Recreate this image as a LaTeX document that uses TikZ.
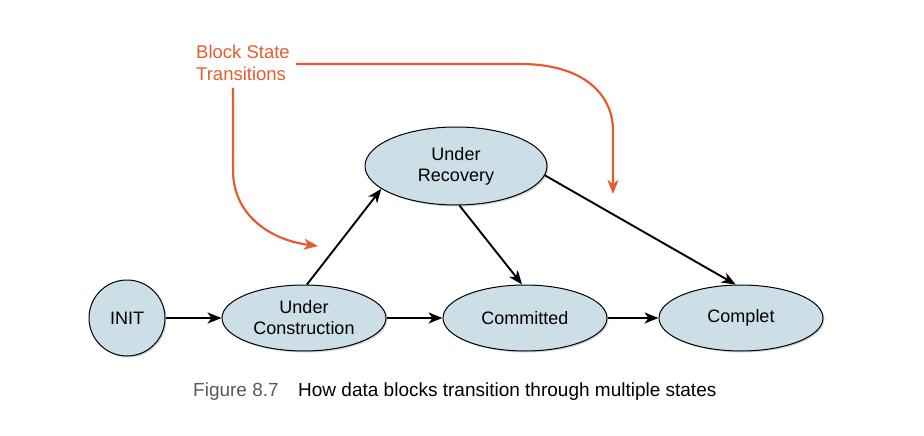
\documentclass[tikz,border=0pt]{standalone}
\usepackage{fontspec}
\setmainfont{Liberation Sans}
\usetikzlibrary{shapes.geometric,shadows,arrows.meta}
\definecolor{stfill}{RGB}{204,222,230}
\definecolor{orng}{RGB}{228,92,48}
\definecolor{capgray}{RGB}{90,90,90}
\begin{document}
\begin{tikzpicture}[x=1pt,y=-1pt,
  state/.style={ellipse,draw=black,line width=1pt,fill=stfill,inner sep=0pt,
    drop shadow={shadow xshift=1.5pt,shadow yshift=-1.5pt,opacity=0.35},
    font=\fontsize{18}{21}\selectfont,align=center},
  conn/.style={line width=1.9pt,-{Stealth[length=14pt,width=11pt,inset=4pt]}},
  oconn/.style={draw=orng,line width=2.2pt,-{Stealth[length=14pt,width=11pt,inset=4pt]}},
]
\useasboundingbox (0,0) rectangle (924,436);
\node[state,circle,minimum size=76pt] (init) at (127,318) {INIT};
\node[state,minimum width=164pt,minimum height=66pt] (uc) at (304,318) {Under\\Construction};
\node[state,minimum width=164pt,minimum height=66pt] (com) at (525,318) {Committed};
\node[state,minimum width=164pt,minimum height=66pt] (cpl) at (741,318) {Complet};
\node[state,minimum width=182pt,minimum height=78pt] (ur) at (456,166) {Under\\Recovery};
\draw[conn] (init) -- (uc);
\draw[conn] (uc) -- (com);
\draw[conn] (com) -- (cpl);
\draw[conn] (uc.85) -- (ur.197);
\draw[conn] (ur.275) -- (com.95);
\draw[conn] (ur.-6) -- (cpl.99);
\node[text=orng,font=\fontsize{18.5}{22}\selectfont,align=left,anchor=north west,inner sep=0pt] (lbl) at (196,45) {Block State\\Transitions};
\coordinate (a1s) at (233,88);
\coordinate (a1e) at (318,246);
\coordinate (a2s) at (296,64);
\coordinate (a2e) at (613,194);
\draw[oconn] (a1s) -- (233,170) .. controls (233,215) and (270,240) .. (a1e);
\draw[oconn] (a2s) -- (520,64) .. controls (590,64) and (613,100) .. (613,130) -- (a2e);
\node[anchor=base west,inner sep=0pt,font=\fontsize{19}{22}\selectfont,text=capgray] (fig) at (193,396) {Figure 8.7};
\node[anchor=base west,inner sep=0pt,font=\fontsize{19}{22}\selectfont] (cap) at (298,396) {How data blocks transition through multiple states};
\end{tikzpicture}
\end{document}
